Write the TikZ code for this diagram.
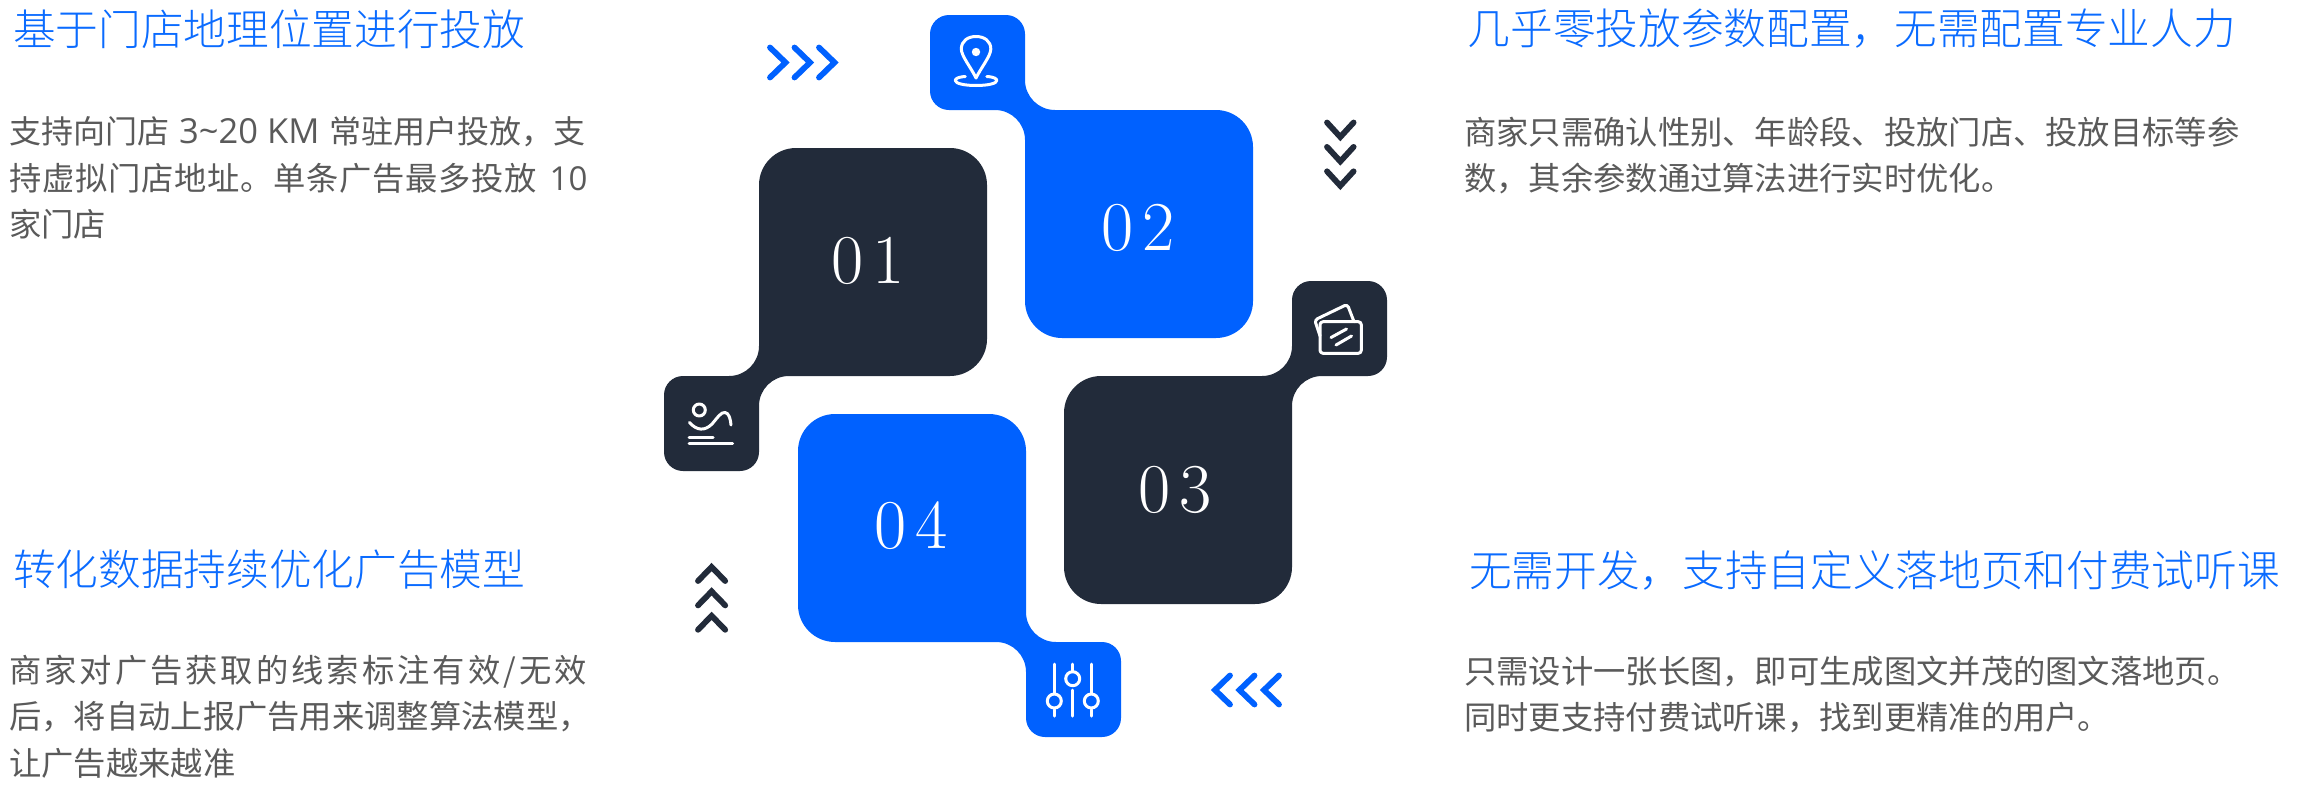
\documentclass[tikz,border=0pt]{standalone}
\usepackage{fontspec}
\newfontfamily\cjkbody{Noto Sans CJK SC}
\newfontfamily\cjktitle{Noto Sans CJK SC Light}
\newfontfamily\latinbody{Open Sans}
\definecolor{brandblue}{HTML}{0061FF}
\definecolor{titleblue}{HTML}{0A6BFF}
\definecolor{brandnavy}{HTML}{222B3A}
\definecolor{bodygrey}{HTML}{5A5A5A}
\newcommand{\blobshape}[4]{%
  \fill[#4,shift={(#1,#2)},#3]
    (-76,-95) -- (-19,-95) .. controls (-8.5,-95) and (0,-86.5) .. (0,-76)
    -- (0,-30) .. controls (0,-13.4) and (13.4,0) .. (30,0)
    -- (191,0) .. controls (211.4,0) and (228,16.6) .. (228,37)
    -- (228,191) .. controls (228,211.4) and (211.4,228) .. (191,228)
    -- (37,228) .. controls (16.6,228) and (0,211.4) .. (0,191)
    -- (0,30) .. controls (0,13.4) and (-13.4,0) .. (-30,0)
    -- (-76,0) .. controls (-86.5,0) and (-95,-8.5) .. (-95,-19)
    -- (-95,-76) .. controls (-95,-86.5) and (-86.5,-95) .. (-76,-95) -- cycle;}
\tikzset{
  titletext/.style={anchor=west,inner sep=0pt,text=titleblue,font=\fontsize{42.67}{50}\cjktitle},
  bodytext/.style={anchor=west,inner sep=0pt,text=bodygrey,font=\fontsize{32.3}{40}\cjkbody},
  numtext/.style={inner sep=0pt,text=white,font=\fontsize{70}{80}\rmfamily},
  chevron/.style={line width=5.8pt,line cap=round,miter limit=10},
  iconline/.style={draw=white,line width=3pt,line cap=round,line join=round}
}
\newcommand{\chev}[7]{\draw[chevron,#7] (#1,#2) -- (#3,#4) -- (#5,#6);}
\begin{document}
\begin{tikzpicture}[x=1pt,y=-1pt]
\useasboundingbox (0,0) rectangle (2301,785);
\fill[white] (0,0) rectangle (2301,785);
% shapes
\blobshape{759}{376}{xscale=1,yscale=-1}{brandnavy}
\blobshape{1025}{110}{xscale=1,yscale=1}{brandblue}
\blobshape{1292}{376}{xscale=-1,yscale=1}{brandnavy}
\blobshape{1026}{642}{xscale=-1,yscale=-1}{brandblue}
% numbers
\node[numtext] (n1) at (868,261) {0\hspace{9pt}1};
\node[numtext] (n2) at (1138,228) {0\hspace{9pt}2};
\node[numtext] (n3) at (1175,490) {0\hspace{9pt}3};
\node[numtext] (n4) at (911,526) {0\hspace{9pt}4};
% chevrons, blue right
\foreach \d in {0,24.5,49}{\chev{770+\d}{47.5}{785.5+\d}{62.5}{770+\d}{77.5}{brandblue}}
% chevrons, navy down
\foreach \d in {0,24.4,48.8}{\chev{1327}{122.5+\d}{1340.3}{137+\d}{1353.6}{122.5+\d}{brandnavy}}
% chevrons, navy up
\foreach \d in {0,24.4,48.8}{\chev{698}{581+\d}{711.6}{567+\d}{725.2}{581+\d}{brandnavy}}
% chevrons, blue left
\foreach \d in {0,24.5,49}{\chev{1230+\d}{675.5}{1215+\d}{690}{1230+\d}{704.5}{brandblue}}
% pin icon
\draw[iconline] (976,78) .. controls (971.3,68) and (961.3,56) .. (961.3,49)
  .. controls (961.3,41) and (967.8,36.5) .. (976,36.5)
  .. controls (984.3,36.5) and (990.8,41) .. (990.8,49)
  .. controls (990.8,56) and (980.8,68) .. (976,78) -- cycle;
\fill[white] (976,52) circle (4.2);
\draw[iconline] (965.3,76.5) .. controls (957.3,77) and (955.3,79) .. (955.3,80.5)
  .. controls (955.3,83.5) and (964.3,85.5) .. (976,85.5)
  .. controls (987.8,85.5) and (996.8,83.5) .. (996.8,80.5)
  .. controls (996.8,79) and (994.8,77) .. (986.8,76.5);
% card icon
\draw[iconline,rounded corners=3pt] (1320,321.7) rectangle (1361.3,353.3);
\draw[iconline,rounded corners=3pt] (1320,336) -- (1314.7,320) -- (1347.3,304.3) -- (1354,321.7);
\draw[iconline] (1331,337.5) -- (1346.5,329);
\draw[iconline] (1336,345) -- (1351.5,336);
% wave icon
\draw[iconline] (699.3,410) circle (6);
\draw[iconline] (689.5,422.5) .. controls (697,431) and (705,431) .. (712,424)
  .. controls (718,417) and (721,412) .. (725,412.5)
  .. controls (729,413) and (730.5,419) .. (731,425);
\draw[iconline] (689,437) -- (713,437);
\draw[iconline] (689,443.7) -- (732.5,443.7);
% slider icon
\draw[iconline] (1054.3,664) -- (1054.3,692.5) (1054.3,709.5) -- (1054.3,716);
\draw[iconline] (1054.3,701) circle (7);
\draw[iconline] (1072.7,664) -- (1072.7,671) (1072.7,690) -- (1072.7,716);
\draw[iconline] (1072.7,678.7) circle (7);
\draw[iconline] (1091.3,664) -- (1091.3,692.5) (1091.3,709.5) -- (1091.3,716);
\draw[iconline] (1091.3,701) circle (7);
% left top
\node[titletext] (t1) at (13,29) {基于门店地理位置进行投放};
\node[bodytext] (b1a) at (9,132) {\fontsize{32}{40}\selectfont 支持向门店\hspace{10pt}{\fontsize{34.5}{40}\latinbody 3\textasciitilde 20 KM}\hspace{10.5pt}常驻用户投放，支};
\node[bodytext] (b1b) at (9,178) {\addfontfeature{LetterSpace=2.2}持虚拟门店地址。单条广告最多投放\hspace{13pt}{\fontsize{33}{40}\latinbody 10}};
\node[bodytext] (b1c) at (9,224) {家门店};
% right top
\node[titletext] (t2) at (1467.5,29) {几乎零投放参数配置，无需配置专业人力};
\node[bodytext] (b2a) at (1464,132) {商家只需确认性别、年龄段、投放门店、投放目标等参};
\node[bodytext] (b2b) at (1464,178) {数，其余参数通过算法进行实时优化。};
% left bottom
\node[titletext] (t3) at (13,570) {转化数据持续优化广告模型};
\node[bodytext] (b3a) at (9,672) {\addfontfeature{LetterSpace=9.3}商家对广告获取的线索标注有效/无效};
\node[bodytext] (b3b) at (9,717) {后，将自动上报广告用来调整算法模型，};
\node[bodytext] (b3c) at (9,763) {让广告越来越准};
% right bottom
\node[titletext] (t4) at (1469,570) {无需开发，支持自定义落地页和付费试听课};
\node[bodytext] (b4a) at (1464,672) {只需设计一张长图，即可生成图文并茂的图文落地页。};
\node[bodytext] (b4b) at (1464,718) {同时更支持付费试听课，找到更精准的用户。};
\end{tikzpicture}
\end{document}
